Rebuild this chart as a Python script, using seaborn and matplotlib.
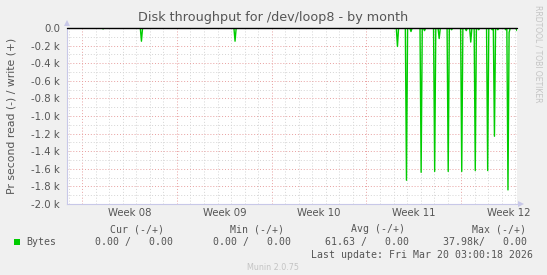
import numpy as np
import pandas as pd
import matplotlib
matplotlib.use("Agg")
import matplotlib.pyplot as plt
import matplotlib.dates as mdates
import matplotlib.transforms as mtransforms
from matplotlib.ticker import MultipleLocator, FuncFormatter
import seaborn as sns

# ---------------- data ----------------
range_start = "2026-02-14 21:00"
range_end = "2026-03-20 03:00"
step = "2h"
spike_times = [
    "2026-02-17 12:00", "2026-02-20 08:00", "2026-02-27 06:00",
    "2026-03-11 06:00", "2026-03-11 22:00", "2026-03-12 06:00",
    "2026-03-13 00:00", "2026-03-13 06:00", "2026-03-14 00:00",
    "2026-03-14 08:00", "2026-03-15 00:00", "2026-03-15 06:00",
    "2026-03-16 00:00", "2026-03-16 08:00", "2026-03-16 16:00",
    "2026-03-17 00:00", "2026-03-17 06:00", "2026-03-17 22:00",
    "2026-03-18 06:00", "2026-03-18 10:00", "2026-03-18 16:00",
    "2026-03-19 06:00", "2026-03-19 10:00", "2026-03-19 12:00",
    "2026-03-20 02:00",
]
spike_values = [
    -10, -150, -150,
    -210, -1730, -40,
    -1640, -30, -1630,
    -120, -1630, -20,
    -1630, -30, -160,
    -1620, -20, -1620,
    -20, -1230, -20,
    -20, -1840, -50,
    -30,
]
week_labels = ["Week 08", "Week 09", "Week 10", "Week 11", "Week 12"]
week_label_dates = ["2026-02-19 12:00", "2026-02-26 12:00", "2026-03-05 12:00",
                    "2026-03-12 12:00", "2026-03-19 12:00"]
legend_headers = ["Cur (-/+)", "Min (-/+)", "Avg (-/+)", "Max (-/+)"]
legend_values = ["0.00 /   0.00", "0.00 /   0.00", "61.63 /   0.00", "37.98k/   0.00"]
series_name = "Bytes"
title = "Disk throughput for /dev/loop8 - by month"
ylabel = "Pr second read (-) / write (+)"
last_update = "Last update: Fri Mar 20 03:00:18 2026"
footer = "Munin 2.0.75"
side_text = "RRDTOOL / TOBI OETIKER"

# build time series (baseline zero, spikes placed at their times)
times = pd.date_range(range_start, range_end, freq=step)
series = pd.Series(0.0, index=times)
for t, v in zip(pd.to_datetime(spike_times), spike_values):
    idx = series.index.get_indexer([t], method="nearest")[0]
    series.iloc[idx] = v
df = pd.DataFrame({"time": series.index, "value": series.values})

# ---------------- style ----------------
sns.set_theme(style="white")
plt.rcParams["font.family"] = ["DejaVu Sans"]
BG = "#f0f0f0"
TXT = "#555555"
GREEN = "#00cc00"
MGRID = "#e8a0a0"
GRID = "#d4d4d4"
AXIS = "#c8c8e8"

W, H = 547, 275
fig = plt.figure(figsize=(W / 100, H / 100), dpi=100, facecolor=BG)
L, R, T, B = 67, 517, 28, 204
ax = fig.add_axes([L / W, 1 - B / H, (R - L) / W, (B - T) / H])
ax.set_facecolor("white")

sns.lineplot(data=df, x="time", y="value", ax=ax, color=GREEN, linewidth=1.0,
             legend=False, zorder=5)
ax.set_xlabel("")
ax.set_ylabel("")

ax.set_xlim(pd.Timestamp(range_start), pd.Timestamp(range_end))
ax.set_ylim(-2000, 0)

# grids
ax.yaxis.set_major_locator(MultipleLocator(200))
ax.yaxis.set_minor_locator(MultipleLocator(100))
ax.xaxis.set_major_locator(mdates.WeekdayLocator(byweekday=mdates.MO))
ax.xaxis.set_minor_locator(mdates.DayLocator())
ax.grid(which="minor", axis="both", color=GRID, linestyle=(0, (1, 2)), linewidth=0.7)
ax.grid(which="major", axis="both", color=MGRID, linestyle=(0, (1, 2)), linewidth=0.7)
ax.set_axisbelow(True)

def yfmt(v, pos):
    if abs(v) < 1e-9:
        return "0.0"
    return f"{v / 1000:.1f} k"
ax.yaxis.set_major_formatter(FuncFormatter(yfmt))
ax.tick_params(axis="y", which="major", length=2, color=MGRID, labelsize=7.3,
               labelcolor=TXT, pad=3)
ax.tick_params(axis="y", which="minor", length=0)
ax.tick_params(axis="x", which="major", length=2, color=MGRID, labelbottom=False,
               direction="in")
ax.tick_params(axis="x", which="minor", length=0)

offset = mtransforms.ScaledTranslation(0, -4 / 100, fig.dpi_scale_trans)
for lab, d in zip(week_labels, week_label_dates):
    ax.text(pd.Timestamp(d), -2000, lab, ha="center", va="top", fontsize=7.3,
            color=TXT, transform=ax.transData + offset, clip_on=False)

for s in ["top", "right"]:
    ax.spines[s].set_visible(False)
ax.spines["left"].set_color(AXIS)
ax.spines["bottom"].set_color(AXIS)
ax.spines["left"].set_linewidth(0.8)
ax.spines["bottom"].set_linewidth(0.8)
ax.axhline(0, color="black", linewidth=1.0, zorder=6, clip_on=False)

# axis arrows
fig.patches.append(matplotlib.patches.Polygon(
    [[(L - 3) / W, 1 - (T - 2) / H], [(L + 3) / W, 1 - (T - 2) / H], [L / W, 1 - (T - 8) / H]],
    closed=True, transform=fig.transFigure, facecolor=AXIS, edgecolor="none"))
fig.patches.append(matplotlib.patches.Polygon(
    [[(R + 1) / W, 1 - (B - 3) / H], [(R + 1) / W, 1 - (B + 3) / H], [(R + 7) / W, 1 - B / H]],
    closed=True, transform=fig.transFigure, facecolor=AXIS, edgecolor="none"))

# texts
fig.text(273 / W, 1 - 17 / H, title, ha="center", va="center", fontsize=9.2, color=TXT)
fig.text(12 / W, 1 - 116 / H, ylabel, ha="center", va="center", rotation=90,
         fontsize=7.8, color=TXT)
fig.text(538 / W, 1 - 5 / H, side_text, ha="center", va="top", rotation=270,
         fontsize=5.5, color="#c4c4c4")

mono = "DejaVu Sans Mono"
fs = 7.1
header_right = [164, 284, 405, 526]
value_right = [173, 291, 409, 527]
for h, x in zip(legend_headers, header_right):
    fig.text(x / W, 1 - 229 / H, h, ha="right", va="center", fontsize=fs,
             family=mono, color=TXT)
for v, x in zip(legend_values, value_right):
    fig.text(x / W, 1 - 242 / H, v, ha="right", va="center", fontsize=fs,
             family=mono, color=TXT)
fig.patches.append(matplotlib.patches.Rectangle(
    (14 / W, 1 - 245 / H), 6 / W, 6 / H, transform=fig.transFigure,
    facecolor=GREEN, edgecolor="none"))
fig.text(26 / W, 1 - 242 / H, series_name, ha="left", va="center", fontsize=fs,
         family=mono, color=TXT)
fig.text(533 / W, 1 - 254.5 / H, last_update, ha="right", va="center", fontsize=fs,
         family=mono, color=TXT)
fig.text(273 / W, 1 - 267.5 / H, footer, ha="center", va="center", fontsize=5.8,
         color="#c4c4c4")

fig.savefig("out.png", dpi=100, facecolor=BG)
